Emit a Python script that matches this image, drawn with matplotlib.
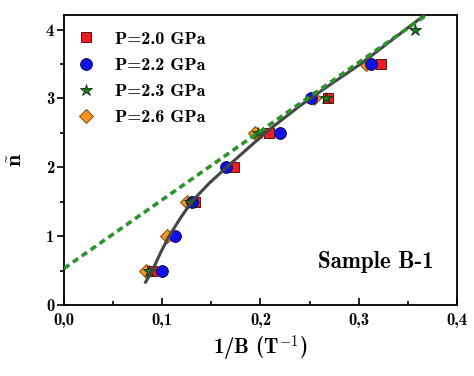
import numpy as np
import matplotlib
matplotlib.use("Agg")
import matplotlib.pyplot as plt
from matplotlib.ticker import MultipleLocator, FuncFormatter

plt.rcParams['mathtext.fontset'] = 'cm'
plt.rcParams['font.family'] = 'cmb10'
plt.rcParams['axes.unicode_minus'] = False

# data
n_red = [0.5, 1.5, 2.0, 2.5, 3.0, 3.5]
x_red = [0.090, 0.133, 0.173, 0.209, 0.269, 0.323]
n_blue = [0.5, 1.0, 1.5, 2.0, 2.5, 3.0, 3.5]
x_blue = [0.100, 0.113, 0.130, 0.165, 0.220, 0.251, 0.313]
n_green = [0.5, 1.5, 2.5, 3.0, 4.0]
x_green = [0.087, 0.128, 0.198, 0.267, 0.357]
n_orange = [0.5, 1.0, 1.5, 2.5, 3.0, 3.5]
x_orange = [0.083, 0.105, 0.125, 0.194, 0.255, 0.307]

# fitted curve (grey) and linear fit (green dashed)
fit_x = [0.083, 0.090, 0.098, 0.107, 0.118, 0.130, 0.148, 0.168, 0.190, 0.212, 0.240, 0.270, 0.303, 0.335, 0.367]
fit_y = [0.33, 0.50, 0.75, 1.00, 1.25, 1.50, 1.77, 2.03, 2.31, 2.58, 2.89, 3.19, 3.51, 3.86, 4.21]
lin_x = [0.0, 0.37]
lin_y = [0.53, 4.22]

labels = ['P=2.0 GPa', 'P=2.2 GPa', 'P=2.3 GPa', 'P=2.6 GPa']

fig = plt.figure(figsize=(4.74, 3.76), dpi=100)
ax = fig.add_axes([0.135, 0.189, 0.829, 0.771])

ax.plot(x_orange, n_orange, 'D', ms=7.5, mfc='#f7941d', mec='#6b3a00', mew=0.6, ls='none', label=labels[3], zorder=3)
ax.plot(x_red, n_red, 's', ms=7.5, mfc='#ee1c24', mec='#400000', mew=0.6, ls='none', label=labels[0], zorder=3)
ax.plot(x_blue, n_blue, 'o', ms=8.5, mfc='#1010e8', mec='#000040', mew=0.6, ls='none', label=labels[1], zorder=3)
ax.plot(x_green, n_green, '*', ms=9, mfc='#1f7a1f', mec='#0a300a', mew=0.6, ls='none', label=labels[2], zorder=3)

ax.plot(fit_x, fit_y, color='#454545', lw=2.2, zorder=4)
ax.plot(lin_x, lin_y, color='#2c942c', lw=2.6, dashes=(1.8, 1.2), zorder=4)

ax.set_xlim(0, 0.4)
ax.set_ylim(0, 4.21)
ax.xaxis.set_major_locator(MultipleLocator(0.1))
ax.xaxis.set_minor_locator(MultipleLocator(0.05))
ax.yaxis.set_major_locator(MultipleLocator(1))
ax.yaxis.set_minor_locator(MultipleLocator(0.5))
ax.xaxis.set_major_formatter(FuncFormatter(lambda v, p: f'{v:.1f}'.replace('.', ',')))
ax.yaxis.set_major_formatter(FuncFormatter(lambda v, p: f'{v:.0f}'))
ax.tick_params(axis='x', which='both', direction='in', labelsize=12, pad=6)
ax.tick_params(axis='x', which='major', length=5, width=1.2)
ax.tick_params(axis='x', which='minor', length=3, width=1.2)
ax.tick_params(axis='y', which='both', direction='out', labelsize=12, pad=2)
ax.tick_params(axis='y', which='major', length=5, width=1.2)
ax.tick_params(axis='y', which='minor', length=3, width=1.2)
for sp in ax.spines.values():
    sp.set_linewidth(1.3)

ax.set_xlabel(r'1/B (T$^{\mathbf{-1}}$)', fontsize=15, labelpad=4)
ax.set_ylabel(r'$\tilde{\mathbf{n}}$', fontsize=16, labelpad=14)

ax.text(0.317, 0.62, 'Sample B-1', fontsize=16.5, ha='center', va='center')

h, l = ax.get_legend_handles_labels()
order = [1, 2, 3, 0]
ax.legend([h[i] for i in order], [l[i] for i in order], loc='upper left', frameon=False,
          fontsize=13, handletextpad=1.0, labelspacing=0.58, borderaxespad=0.2,
          handlelength=1.2, bbox_to_anchor=(0.0, 0.982))

fig.savefig('out.png', dpi=100)
